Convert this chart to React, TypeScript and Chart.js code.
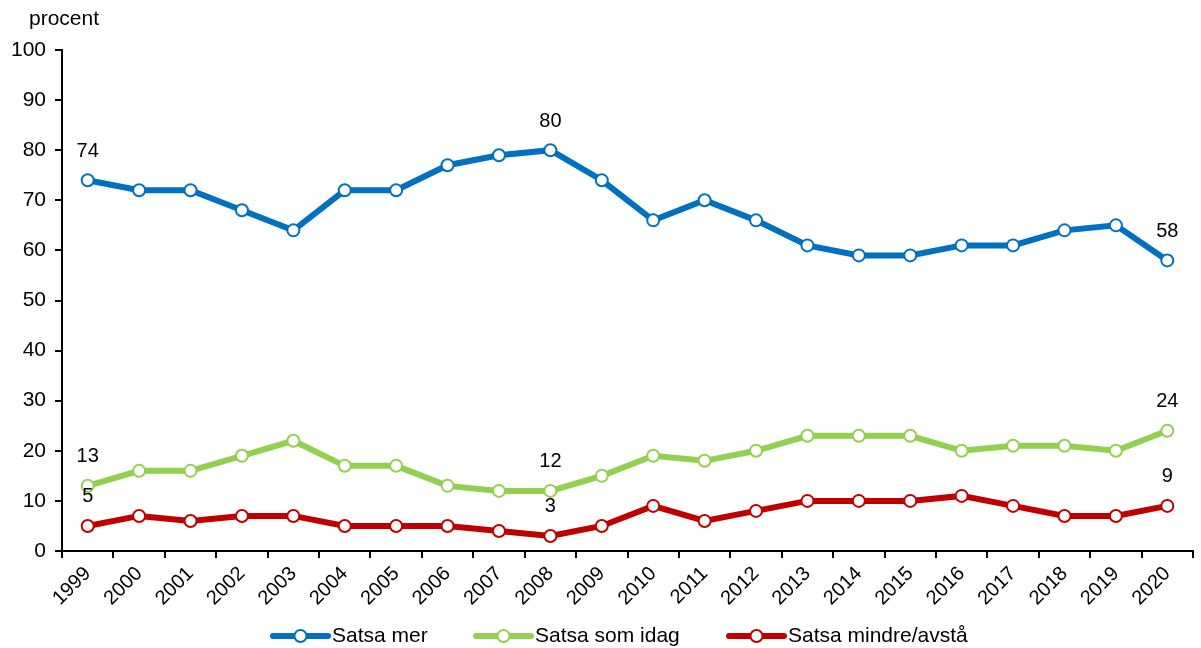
import React, { useEffect, useRef } from "react";
import { Chart, registerables } from "chart.js";

Chart.register(...registerables);

const years = ["1999","2000","2001","2002","2003","2004","2005","2006","2007","2008","2009","2010","2011","2012","2013","2014","2015","2016","2017","2018","2019","2020"];
const satsaMer = [74,72,72,68,64,72,72,77,79,80,74,66,70,66,61,59,59,61,61,64,65,58];
const satsaSomIdag = [13,16,16,19,22,17,17,13,12,12,15,19,18,20,23,23,23,20,21,21,20,24];
const satsaMindre = [5,7,6,7,7,5,5,5,4,3,5,9,6,8,10,10,10,11,9,7,7,9];
const seriesNames = ["Satsa mer", "Satsa som idag", "Satsa mindre/avstå"];
const seriesColors = ["#0070C0", "#92D050", "#C00000"];
const labelledIndices = [0, 9, 21];
const yTicks = [0,10,20,30,40,50,60,70,80,90,100];

const FONT = "Arial, 'Liberation Sans', sans-serif";
const FS = 20;

const extrasPlugin = {
  id: "extras",
  afterDatasetsDraw(chart: any) {
    const ctx = chart.ctx;
    ctx.save();
    ctx.font = `${FS}px ${FONT}`;
    ctx.fillStyle = "#000";
    ctx.textAlign = "center";
    ctx.textBaseline = "middle";
    chart.data.datasets.forEach((ds: any, di: number) => {
      const meta = chart.getDatasetMeta(di);
      labelledIndices.forEach((i) => {
        const el = meta.data[i];
        if (!el) return;
        ctx.fillText(String(ds.data[i]), el.x, el.y - 29);
      });
    });
    // axis title
    ctx.textAlign = "left";
    ctx.font = `${FS + 1}px ${FONT}`;
    ctx.fillText("procent", 29, 19);
    // legend
    ctx.font = `${FS + 1}px ${FONT}`;
    const lineLen = 55;
    const gapText = 4;
    const starts = [273, 476, 729];
    const y = 636;
    seriesNames.forEach((n, i) => {
      const x = starts[i];
      ctx.strokeStyle = seriesColors[i];
      ctx.lineWidth = 6;
      ctx.lineCap = "round";
      ctx.beginPath();
      ctx.moveTo(x, y);
      ctx.lineTo(x + lineLen, y);
      ctx.stroke();
      ctx.beginPath();
      ctx.arc(x + lineLen / 2, y, 6, 0, Math.PI * 2);
      ctx.fillStyle = "#fff";
      ctx.fill();
      ctx.lineWidth = 2;
      ctx.stroke();
      ctx.fillStyle = "#000";
      ctx.textAlign = "left";
      ctx.fillText(n, x + lineLen + gapText, y);
    });
    ctx.restore();
  },
};

export default function App() {
  const ref = useRef<HTMLCanvasElement | null>(null);
  useEffect(() => {
    if (!ref.current) return;
    const data = [satsaMer, satsaSomIdag, satsaMindre];
    const chart = new Chart(ref.current, {
      type: "line",
      data: {
        labels: years,
        datasets: data.map((d, i) => ({
          label: seriesNames[i],
          data: d,
          borderColor: seriesColors[i],
          backgroundColor: "#ffffff",
          borderWidth: 6,
          pointRadius: 6,
          pointBorderWidth: 2,
          pointBackgroundColor: "#ffffff",
          pointBorderColor: seriesColors[i],
          tension: 0,
        })),
      },
      options: {
        animation: false,
        responsive: false,
        layout: { padding: { top: 50, right: 0, left: 0, bottom: 0 } },
        plugins: { legend: { display: false }, tooltip: { enabled: false } },
        scales: {
          x: {
            type: "category",
            offset: true,
            afterFit: (s: any) => { s.height = 97; },
            grid: { offset: true, drawOnChartArea: false, drawTicks: true, tickLength: 7, color: "#000", lineWidth: 2 },
            border: { display: true, color: "#000", width: 2 },
            ticks: { maxRotation: 45, minRotation: 45, autoSkip: false, color: "#000", font: { family: FONT, size: FS }, padding: 4 },
          },
          y: {
            min: 0,
            max: 100,
            afterFit: (s: any) => { s.width = 62; },
            afterBuildTicks: (s: any) => { s.ticks = yTicks.map((v) => ({ value: v })); },
            grid: { drawOnChartArea: false, drawTicks: true, tickLength: 7, color: "#000", lineWidth: 2 },
            border: { display: true, color: "#000", width: 2 },
            ticks: { color: "#000", font: { family: FONT, size: FS + 1 }, padding: 9 },
          },
        },
      },
      plugins: [extrasPlugin],
    } as any);
    return () => chart.destroy();
  }, []);
  return (
    <div style={{ position: "fixed", left: 0, top: 0, width: 1201, height: 648, background: "#fff" }}>
      <canvas ref={ref} width={1201} height={648} style={{ width: 1201, height: 648, display: "block" }} />
    </div>
  );
}
